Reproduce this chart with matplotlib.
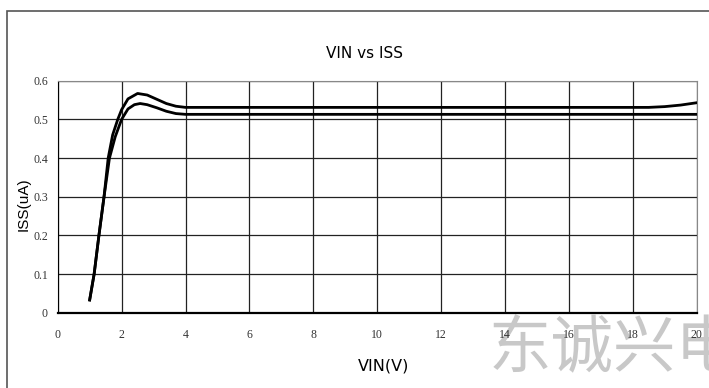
import matplotlib.pyplot as plt
from matplotlib.patches import Rectangle

# values
vin_upper = [1.0, 1.14, 1.29, 1.45, 1.58, 1.72, 1.88, 2.0, 2.2, 2.5, 2.8, 3.1, 3.4, 3.7, 4.0,
             6.0, 10.0, 14.0, 18.0, 18.5, 19.0, 19.5, 20.0]
iss_upper = [0.033, 0.1, 0.2, 0.3, 0.4, 0.46, 0.5, 0.525, 0.553, 0.567, 0.563, 0.552, 0.541, 0.534, 0.531,
             0.531, 0.531, 0.531, 0.531, 0.531, 0.533, 0.537, 0.543]

vin_lower = [1.0, 1.14, 1.29, 1.45, 1.62, 1.8, 2.0, 2.2, 2.4, 2.58, 2.8, 3.1, 3.4, 3.7, 4.0,
             6.0, 10.0, 14.0, 18.0, 20.0]
iss_lower = [0.033, 0.1, 0.2, 0.3, 0.4, 0.455, 0.5, 0.527, 0.538, 0.541, 0.538, 0.53, 0.521, 0.515, 0.513,
             0.513, 0.513, 0.513, 0.513, 0.513]

xticks = [0, 2, 4, 6, 8, 10, 12, 14, 16, 18, 20]
yticks = [0, 0.1, 0.2, 0.3, 0.4, 0.5, 0.6]
ytick_labels = ['0', '0.1', '0.2', '0.3', '0.4', '0.5', '0.6']

fig = plt.figure(figsize=(7.09, 3.88), dpi=100)

# watermark, drawn first so the tick labels sit on top of it
fig.text(489 / 709, 1 - 349 / 388, '东诚兴电', ha='left', va='center', fontsize=45,
         color='#c8c8c8', family='Noto Sans CJK SC', zorder=-5)

ax = fig.add_axes([0.0814, 0.194, 0.9012, 0.598])
ax.patch.set_alpha(0)
ax.set_zorder(2)

# outer frame of the picture
fig.patches.append(Rectangle((7 / 709, -0.1), 1.2, 1.1 - 11 / 388, transform=fig.transFigure,
                             fill=False, edgecolor='#555555', linewidth=1.2))

ax.plot(vin_upper, iss_upper, color='black', linewidth=2.0, zorder=3)
ax.plot(vin_lower, iss_lower, color='black', linewidth=2.0, zorder=3)

ax.set_xlim(0, 20)
ax.set_ylim(0, 0.6)
ax.set_xticks(xticks)
ax.set_yticks(yticks)
ax.set_yticklabels(ytick_labels)
ax.grid(True, color='#222222', linewidth=0.9)
ax.tick_params(axis='both', length=0, labelsize=8.5, labelcolor='#333333')
ax.tick_params(axis='x', pad=12)
ax.tick_params(axis='y', pad=7)
for lab in ax.get_xticklabels() + ax.get_yticklabels():
    lab.set_family('Liberation Serif')

ax.spines['left'].set_color('black')
ax.spines['bottom'].set_color('black')
ax.spines['bottom'].set_linewidth(1.6)
ax.spines['top'].set_color('#888888')
ax.spines['right'].set_color('#888888')

fig.text(364 / 709, 1 - 54 / 388, 'VIN vs ISS', ha='center', va='center',
         fontsize=11, family='Liberation Sans Narrow')
fig.text(384 / 709, 1 - 366 / 388, 'VIN(V)', ha='center', va='center',
         fontsize=11.5, family='Liberation Sans Narrow')
fig.text(24 / 709, 1 - 204 / 388, 'ISS(uA)', ha='center', va='center', rotation=90,
         fontsize=11, family='Liberation Sans')

fig.savefig('out.png', dpi=100)
